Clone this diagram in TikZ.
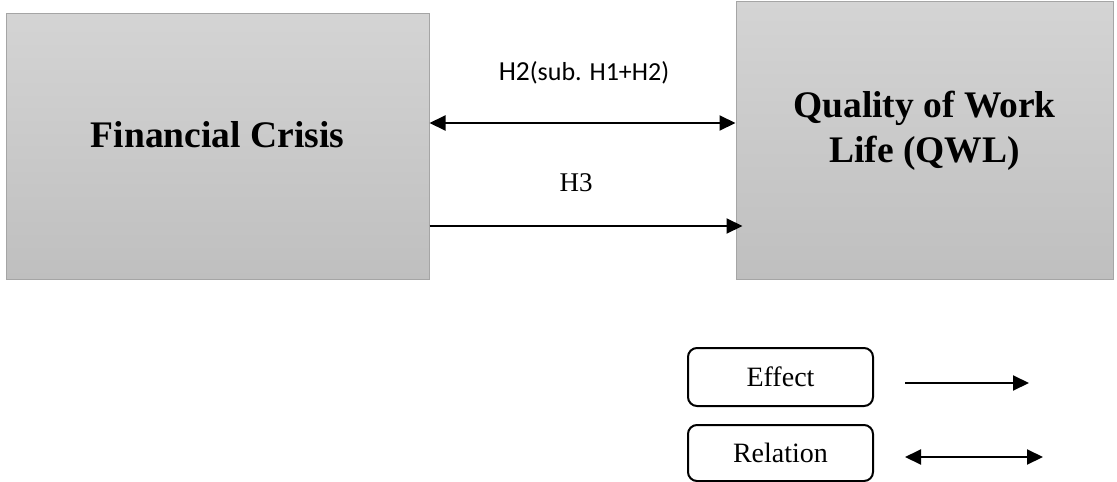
\documentclass[tikz,border=0pt]{standalone}
\usepackage{fontspec}
\setmainfont{Liberation Serif}
\newfontfamily\calibrifont{Carlito}
\usetikzlibrary{arrows.meta}
\definecolor{boxtop}{RGB}{212,212,212}
\definecolor{boxbottom}{RGB}{191,191,191}
\definecolor{boxline}{RGB}{165,165,165}

\begin{document}
\begin{tikzpicture}[x=1pt,y=-1pt,>={Triangle[length=16pt,width=15pt]},
  varbox/.style={draw=boxline,line width=1pt,top color=boxtop,bottom color=boxbottom,inner sep=0pt},
  vartext/.style={font=\fontsize{37.5}{45}\selectfont\bfseries,align=center},
  keybox/.style={draw,line width=2pt,rounded corners=9pt,minimum width=185pt,inner sep=0pt,font=\fontsize{28}{34}\selectfont},
  link/.style={line width=2pt}]
  \useasboundingbox (0,0) rectangle (1117,482);
  \node[varbox,minimum width=423pt,minimum height=266pt] (fc) at (217.5,146) {};
  \node[varbox,minimum width=377pt,minimum height=278pt] (qwl) at (924.5,140) {};
  \node[vartext] (fctext) at ([yshift=11pt]fc.center) {Financial Crisis};
  \node[vartext] (qwltext) at ([yshift=9pt]qwl.center) {Quality of Work\\Life (QWL)};
  \draw[link,<->] ([yshift=23pt]fc.east) -- ([yshift=23pt]fc.east -| qwl.west);
  \draw[link,->,shorten >=-7pt] ([yshift=-80pt]fc.east) -- ([yshift=-80pt]fc.east -| qwl.west);
  \node[font=\calibrifont\fontsize{27.5}{32}\selectfont] (h2lbl) at (584,73) {H2{\fontsize{26}{30}\selectfont(sub. H1+H2)}};
  \node[font=\fontsize{27}{32}\selectfont] (h3lbl) at (576,183) {H3};
  \node[keybox,minimum height=58pt] (effect) at (780.5,377) {Effect};
  \node[keybox,minimum height=56pt] (relation) at (780.5,453) {Relation};
  \coordinate (effa) at (905,383);
  \coordinate (effb) at (1029,383);
  \coordinate (rela) at (905,457);
  \coordinate (relb) at (1043,457);
  \draw[link,->] (effa) -- (effb);
  \draw[link,<->] (rela) -- (relb);
\end{tikzpicture}
\end{document}
